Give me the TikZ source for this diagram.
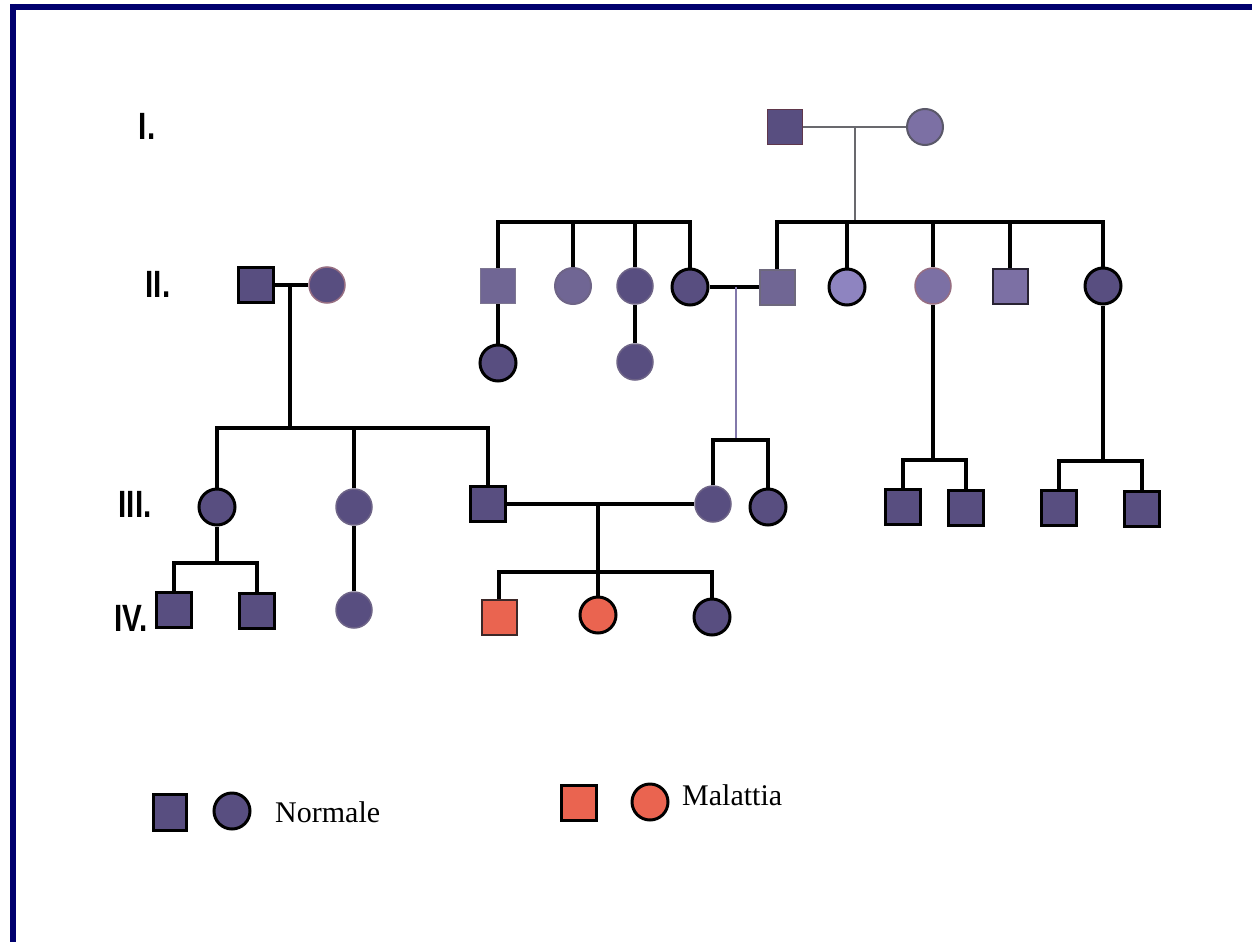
\documentclass[tikz,border=0pt]{standalone}
\usepackage{fontspec}
\setmainfont{Liberation Serif}
\newfontfamily\labfont{Liberation Sans}
\definecolor{dk}{RGB}{88,78,128}
\definecolor{md}{RGB}{112,102,148}
\definecolor{lt}{RGB}{124,112,164}
\definecolor{ltr}{RGB}{142,132,192}
\definecolor{rd}{RGB}{234,100,80}
\definecolor{navy}{RGB}{0,0,110}
\definecolor{softb}{RGB}{110,100,135}
\definecolor{pinkb}{RGB}{150,110,130}
\definecolor{gline}{RGB}{105,105,110}
\definecolor{lline}{RGB}{130,120,170}
\definecolor{brownb}{RGB}{95,55,75}
\definecolor{grayb}{RGB}{90,88,105}
\definecolor{grayb2}{RGB}{125,118,145}
\definecolor{grayb3}{RGB}{110,105,125}
\definecolor{darkb}{RGB}{40,35,50}
\definecolor{redb}{RGB}{60,40,40}
\tikzset{
  base/.style={inner sep=0pt, line width=3pt},
  male/.style={base, rectangle, minimum size=35pt},
  fem/.style={base, circle, minimum size=36pt},
  bk/.style={draw=black},
  soft/.style={draw=softb, line width=1.5pt},
  conn/.style={line width=3.5pt, black},
  gconn/.style={line width=2.8pt, gline},
  lconn/.style={line width=2.5pt, lline},
  gen/.style={font=\labfont\bfseries\fontsize{38}{40}\selectfont, xscale=0.78, inner sep=0pt},
  legtext/.style={font=\fontsize{30}{32}\selectfont, inner sep=0pt},
}
\begin{document}
\begin{tikzpicture}[x=1pt,y=-1pt]
\useasboundingbox (0,0) rectangle (1252,942);
\fill[white] (0,0) rectangle (1252,942);
% frame
\draw[navy, line width=6pt] (10,7) -- (1252,7);
\draw[navy, line width=6pt] (13,4) -- (13,942);

% generation labels
\node[gen] (gI) at (147,126) {I.};
\node[gen] (gII) at (158,284) {II.};
\node[gen] (gIII) at (135,504) {III.};
\node[gen] (gIV) at (131,618) {IV.};

% generation I
\node[male, fill=dk, draw=brownb, line width=1.5pt] (i1) at (785,127) {};
\node[fem, fill=lt, draw=grayb, line width=2pt] (i2) at (925,127) {};

% generation II
\node[male, fill=dk, bk] (a1) at (256,285) {};
\node[fem, fill=dk, draw=pinkb, line width=1.5pt] (a2) at (327,285) {};
\node[male, fill=md, draw=grayb2, line width=1.5pt] (b1) at (498,286) {};
\node[fem, fill=md, draw=softb, line width=2pt] (b2) at (573,286) {};
\node[fem, fill=dk, soft] (b3) at (635,286) {};
\node[fem, fill=dk, bk] (b4) at (690,287) {};
\node[male, fill=md, draw=grayb3, line width=2pt] (c1) at (777,287) {};
\node[fem, fill=ltr, bk] (c2) at (847,287) {};
\node[fem, fill=lt, draw=pinkb, line width=1.5pt] (c3) at (933,286) {};
\node[male, fill=lt, draw=darkb, line width=2pt] (c4) at (1010,286) {};
\node[fem, fill=dk, bk] (c5) at (1103,286) {};

% children of II-middle
\node[fem, fill=dk, bk] (d1) at (498,363) {};
\node[fem, fill=dk, soft] (d2) at (635,362) {};

% generation III
\node[fem, fill=dk, bk] (e1) at (217,507) {};
\node[fem, fill=dk, soft] (e2) at (354,507) {};
\node[male, fill=dk, bk] (e3) at (488,504) {};
\node[fem, fill=dk, soft] (e4) at (713,504) {};
\node[fem, fill=dk, bk] (e5) at (768,507) {};
\node[male, fill=dk, bk] (e6) at (903,507) {};
\node[male, fill=dk, bk] (e7) at (966,508) {};
\node[male, fill=dk, bk] (e8) at (1059,508) {};
\node[male, fill=dk, bk] (e9) at (1142,509) {};

% generation IV
\node[male, fill=dk, bk] (f1) at (174,610) {};
\node[male, fill=dk, bk] (f2) at (257,611) {};
\node[fem, fill=dk, soft] (f3) at (354,610) {};
\node[male, fill=rd, draw=redb, line width=2pt] (f4) at (499,617) {};
\node[fem, fill=rd, bk] (f5) at (598,615) {};
\node[fem, fill=dk, bk] (f6) at (712,617) {};

% legend
\node[male, fill=dk, bk, minimum width=33pt, minimum height=36pt] (l1) at (170,812) {};
\node[fem, fill=dk, bk] (l2) at (232,811) {};
\node[legtext, anchor=base west] (l3) at (275,822) {Normale};
\node[male, fill=rd, bk] (l4) at (579,803) {};
\node[fem, fill=rd, bk] (l5) at (650,802) {};
\node[legtext, anchor=base west] (l6) at (682,805) {Malattia};

% junction coordinates
\coordinate (jI) at (855,127);
\coordinate (s2R) at (855,222);
\coordinate (s2M) at (592,222);
\coordinate (jM) at (736,287);
\coordinate (s3M) at (736,440);
\coordinate (jL) at (290,285);
\coordinate (s3L) at (290,428);
\coordinate (jIII) at (598,504);
\coordinate (s4) at (598,572);
\coordinate (s4L) at (217,563);
\coordinate (s3R1) at (933,460);
\coordinate (s3R2) at (1103,461);

% generation I connectors
\draw[gconn] (i1.east) -- (i2.west);
\draw[gconn] (jI) -- (s2R);
\draw[conn] (c1.north) |- (s2R) -| (c5.north);
\draw[conn] (s2R -| c2) -- (c2.north);
\draw[conn] (s2R -| c3) -- (c3.north);
\draw[conn] (s2R -| c4) -- (c4.north);

% II-middle sibship
\draw[conn] (b1.north) |- (s2M) -| (b4.north);
\draw[conn] (s2M -| b2) -- (b2.north);
\draw[conn] (s2M -| b3) -- (b3.north);
\draw[conn] (b1.south) -- (d1.north);
\draw[conn] (b3.south) -- (d2.north);

% marriage b4 - c1
\draw[conn] (b4.east) -- (c1.west);
\draw[lconn] (jM) -- (s3M);
\draw[conn] (e4.north) |- (s3M) -| (e5.north);

% II-left family
\draw[conn] (a1.east) -- (a2.west);
\draw[conn] (jL) -- (s3L);
\draw[conn] (e1.north) |- (s3L) -| (e3.north);
\draw[conn] (s3L -| e2) -- (e2.north);

% III marriage
\draw[conn] (e3.east) -- (e4.west);
\draw[conn] (jIII) -- (s4);
\draw[conn] (f4.north) |- (s4) -| (f6.north);
\draw[conn] (s4) -- (f5.north);

% other III families
\draw[conn] (e1.south) -- (s4L);
\draw[conn] (f1.north) |- (s4L) -| (f2.north);
\draw[conn] (e2.south) -- (f3.north);
\draw[conn] (c3.south) -- (s3R1);
\draw[conn] (e6.north) |- (s3R1) -| (e7.north);
\draw[conn] (c5.south) -- (s3R2);
\draw[conn] (e8.north) |- (s3R2) -| (e9.north);
\end{tikzpicture}
\end{document}
